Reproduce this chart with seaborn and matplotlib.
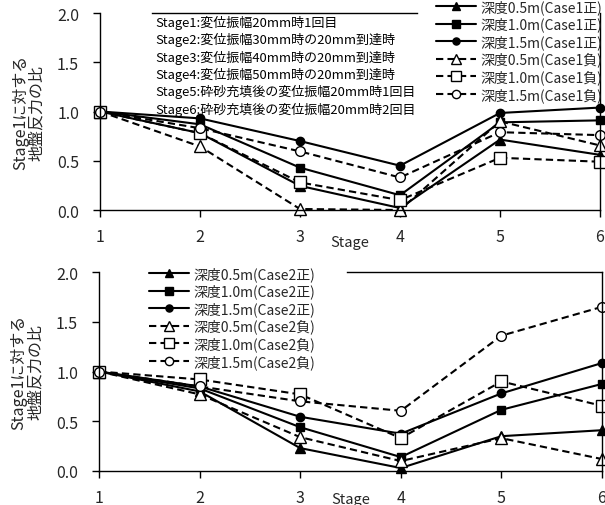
import matplotlib
matplotlib.use("Agg")
import matplotlib.pyplot as plt
import seaborn as sns
import pandas as pd

sns.set_theme(style="white")
plt.rcParams['font.family'] = ['Noto Sans CJK JP', 'DejaVu Sans']

stages = [1, 2, 3, 4, 5, 6]

# Case 1
c1_05_pos = [1.0, 0.78, 0.245, 0.02, 0.715, 0.56]
c1_10_pos = [1.0, 0.87, 0.43, 0.15, 0.89, 0.91]
c1_15_pos = [1.0, 0.93, 0.70, 0.45, 0.985, 1.04]
c1_05_neg = [1.0, 0.645, 0.01, 0.0, 0.90, 0.655]
c1_10_neg = [1.0, 0.78, 0.28, 0.10, 0.53, 0.49]
c1_15_neg = [1.0, 0.83, 0.595, 0.33, 0.79, 0.76]

# Case 2
c2_05_pos = [1.0, 0.80, 0.23, 0.03, 0.35, 0.41]
c2_10_pos = [1.0, 0.83, 0.44, 0.14, 0.615, 0.875]
c2_15_pos = [1.0, 0.85, 0.545, 0.375, 0.78, 1.085]
c2_05_neg = [1.0, 0.77, 0.34, 0.10, 0.33, 0.12]
c2_10_neg = [1.0, 0.92, 0.77, 0.33, 0.90, 0.655]
c2_15_neg = [1.0, 0.85, 0.70, 0.605, 1.36, 1.65]

labels1 = ["深度0.5m(Case1正)", "深度1.0m(Case1正)", "深度1.5m(Case1正)",
           "深度0.5m(Case1負)", "深度1.0m(Case1負)", "深度1.5m(Case1負)"]
labels2 = ["深度0.5m(Case2正)", "深度1.0m(Case2正)", "深度1.5m(Case2正)",
           "深度0.5m(Case2負)", "深度1.0m(Case2負)", "深度1.5m(Case2負)"]

stage_notes = [
    "Stage1:変位振幅20mm時1回目",
    "Stage2:変位振幅30mm時の20mm到達時",
    "Stage3:変位振幅40mm時の20mm到達時",
    "Stage4:変位振幅50mm時の20mm到達時",
    "Stage5:砕砂充填後の変位振幅20mm時1回目",
    "Stage6:砕砂充填後の変位振幅20mm時2回目",
]

yticks = [0.0, 0.5, 1.0, 1.5, 2.0]

styles = [
    dict(marker='^', ls='-', mfc='black', ms=6.5),
    dict(marker='s', ls='-', mfc='black', ms=6),
    dict(marker='o', ls='-', mfc='black', ms=6),
    dict(marker='^', ls='--', mfc='white', ms=8),
    dict(marker='s', ls='--', mfc='white', ms=8),
    dict(marker='o', ls='--', mfc='white', ms=7),
]

fig = plt.figure(figsize=(6.05, 5.06), dpi=100)
ax1 = fig.add_axes([100/605, 1-211/506, 500/605, 197/506])
ax2 = fig.add_axes([99/605, 1-472/506, 503/605, 199/506])


def draw(ax, series, labels, xlabelpad):
    for vals, lab, st in zip(series, labels, styles):
        df = pd.DataFrame({"Stage": stages, "ratio": vals})
        sns.lineplot(data=df, x="Stage", y="ratio", ax=ax, color='black',
                     linestyle=st['ls'], linewidth=1.5, marker=st['marker'],
                     markersize=st['ms'], markerfacecolor=st['mfc'],
                     markeredgecolor='black', markeredgewidth=1.0,
                     label=lab, clip_on=False)
        ln = ax.lines[-1]
        if st['ls'] == '--':
            ln.set_dashes((3.5, 2.0))
    ax.set_xlim(1, 6)
    ax.set_ylim(0, 2.0)
    ax.set_xticks(stages)
    ax.set_yticks(yticks)
    ax.set_yticklabels([f"{v:.1f}" for v in yticks])
    ax.tick_params(axis='both', direction='out', length=5, width=1, color='black',
                   labelsize=11.5, bottom=True, left=True)
    ax.tick_params(axis='y', pad=10)
    ax.tick_params(axis='x', pad=8)
    for sp in ax.spines.values():
        sp.set_color('black')
        sp.set_linewidth(1.0)
    ax.set_xlabel("Stage", fontsize=10.5, labelpad=xlabelpad)
    ax.set_ylabel("Stage1に対する\n地盤反力の比", fontsize=11.5, linespacing=1.0)
    ax.yaxis.set_label_coords(-0.108, 0.5)


draw(ax1, [c1_05_pos, c1_10_pos, c1_15_pos, c1_05_neg, c1_10_neg, c1_15_neg], labels1, -7)
draw(ax2, [c2_05_pos, c2_10_pos, c2_15_pos, c2_05_neg, c2_10_neg, c2_15_neg], labels2, -10)

ax1.spines['top'].set_bounds(1.52, 4.17)
ax2.spines['top'].set_bounds(3.47, 6.0)

leg_kw = dict(frameon=False, fontsize=10, handlelength=2.9, handletextpad=0.3,
              labelspacing=0.2, borderpad=0.0, borderaxespad=0.0)
leg1 = ax1.legend(loc='upper left', bbox_to_anchor=(436/605, 1.0),
                  bbox_transform=fig.transFigure, **leg_kw)
leg2 = ax2.legend(loc='upper left', bbox_to_anchor=(149/605, 1-267/506),
                  bbox_transform=fig.transFigure, **leg_kw)
for leg in (leg1, leg2):
    for h in leg.legend_handles:
        h.set_markersize(h.get_markersize() * 0.85)

y0 = 23
for i, note in enumerate(stage_notes):
    fig.text(155/605, 1 - (y0 + i*17.3)/506, note, fontsize=9.4,
             ha='left', va='center', color='black')

fig.savefig("out.png", dpi=100)
